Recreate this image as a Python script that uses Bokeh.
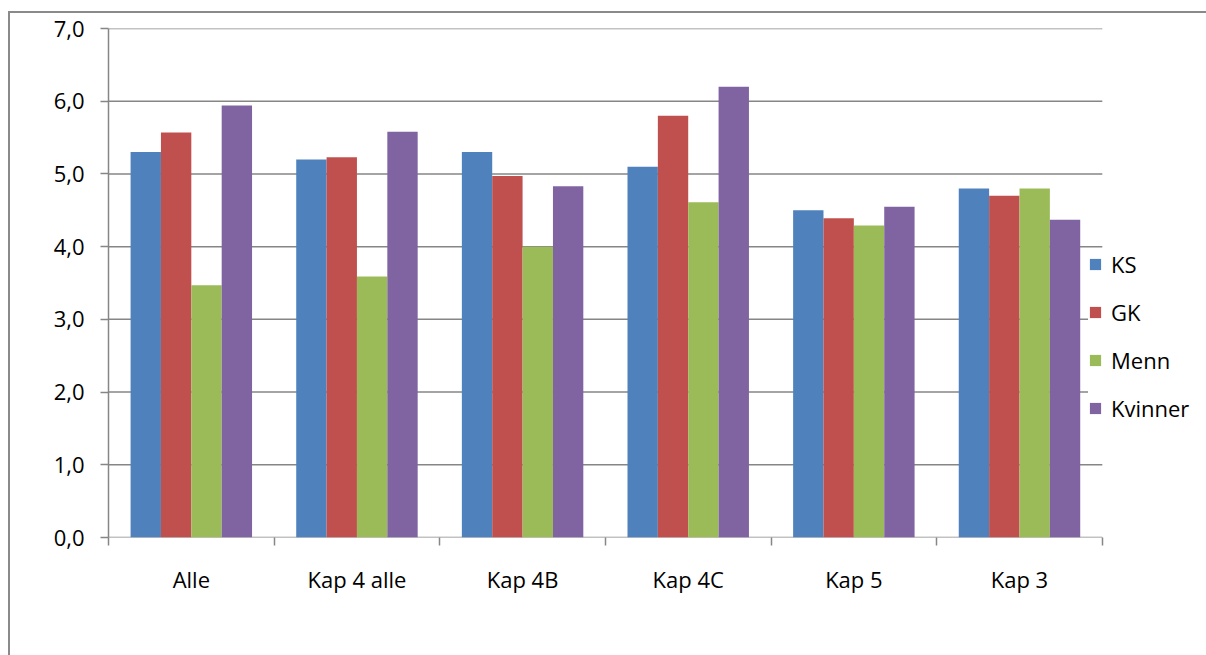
from bokeh.plotting import figure
from bokeh.models import Range1d, FixedTicker, Legend, LegendItem, ColumnDataSource
from bokeh.embed import file_html
from bokeh.resources import INLINE

categories = ["Alle", "Kap 4 alle", "Kap 4B", "Kap 4C", "Kap 5", "Kap 3"]
series_names = ["KS", "GK", "Menn", "Kvinner"]
ks = [5.3, 5.2, 5.3, 5.1, 4.5, 4.8]
gk = [5.57, 5.23, 4.97, 5.8, 4.39, 4.7]
menn = [3.47, 3.59, 4.0, 4.61, 4.29, 4.8]
kvinner = [5.94, 5.58, 4.83, 6.2, 4.55, 4.37]
y_ticks = [0, 1, 2, 3, 4, 5, 6, 7]

colors = ["#4F81BD", "#C0504D", "#9BBB59", "#8064A2"]
offsets = [-0.275, -0.0917, 0.0917, 0.275]
bar_w = 0.1833
FONT = "Open Sans"
FS = "22px"
GRID = "#868686"

n = len(categories)
# frame spans 108..1204 px; the category area spans 108..1100 px (992 px)
CANVAS_W = 1196
BORDER_L = 98
frame_w = CANVAS_W - BORDER_L
x_end = n * frame_w / 992.0

p = figure(width=1198, height=644, output_backend="svg", toolbar_location=None,
           x_range=Range1d(0, x_end), y_range=Range1d(0, 7),
           min_border_left=BORDER_L, min_border_right=0, min_border_top=15, min_border_bottom=120)
p.styles = {"border-left": "2px solid #8a8a8a", "border-top": "2px solid #8a8a8a",
            "margin-left": "8px", "margin-top": "11px"}
p.outline_line_color = None
p.background_fill_color = "white"
p.border_fill_color = "white"

# horizontal gridlines restricted to the category area
p.segment(x0=[0] * len(y_ticks), x1=[n] * len(y_ticks), y0=y_ticks, y1=y_ticks,
          line_color=GRID, line_width=1.5, level="underlay")

renderers = []
for vals, off, col in zip([ks, gk, menn, kvinner], offsets, colors):
    src = ColumnDataSource(dict(x=[i + 0.5 + off for i in range(n)], top=vals))
    r = p.vbar(x="x", top="top", width=bar_w, bottom=0, source=src,
               fill_color=col, line_color=None)
    renderers.append(r)

# y axis
p.yaxis.ticker = FixedTicker(ticks=y_ticks)
p.yaxis.major_label_overrides = {t: f"{t:.1f}".replace(".", ",") for t in y_ticks}
p.yaxis.major_label_text_font = FONT
p.yaxis.major_label_text_font_size = FS
p.yaxis.major_label_text_color = "black"
p.yaxis.axis_line_color = GRID
p.yaxis.axis_line_width = 1.5
p.yaxis.major_tick_line_color = GRID
p.yaxis.major_tick_line_width = 1.5
p.yaxis.major_tick_out = 8
p.yaxis.major_tick_in = 0
p.yaxis.minor_tick_line_color = None
p.yaxis.major_label_standoff = 16

# x axis: labels at centres, ticks at boundaries
p.xaxis.ticker = FixedTicker(ticks=[i + 0.5 for i in range(n)],
                             minor_ticks=list(range(n + 1)))
p.xaxis.major_label_overrides = {i + 0.5: c for i, c in enumerate(categories)}
p.xaxis.major_label_text_font = FONT
p.xaxis.major_label_text_font_size = FS
p.xaxis.major_label_text_color = "black"
p.xaxis.axis_line_color = None
p.xaxis.major_tick_line_color = None
p.xaxis.major_tick_out = 0
p.xaxis.major_tick_in = 0
p.xaxis.minor_tick_line_color = GRID
p.xaxis.minor_tick_line_width = 1.5
p.xaxis.minor_tick_out = 8
p.xaxis.minor_tick_in = 0
p.xaxis.major_label_standoff = 18

p.xgrid.grid_line_color = None
p.ygrid.grid_line_color = None

legend = Legend(items=[LegendItem(label=s, renderers=[r]) for s, r in zip(series_names, renderers)],
                location=(980, 114), padding=0, margin=0, spacing=18,
                glyph_width=14, glyph_height=14, label_height=30, label_standoff=9,
                label_text_font=FONT, label_text_font_size=FS, label_text_color="black",
                background_fill_color="white", background_fill_alpha=1.0,
                border_line_color=None)
p.add_layout(legend, "center")

open("out.html", "w").write(file_html(p, INLINE))
